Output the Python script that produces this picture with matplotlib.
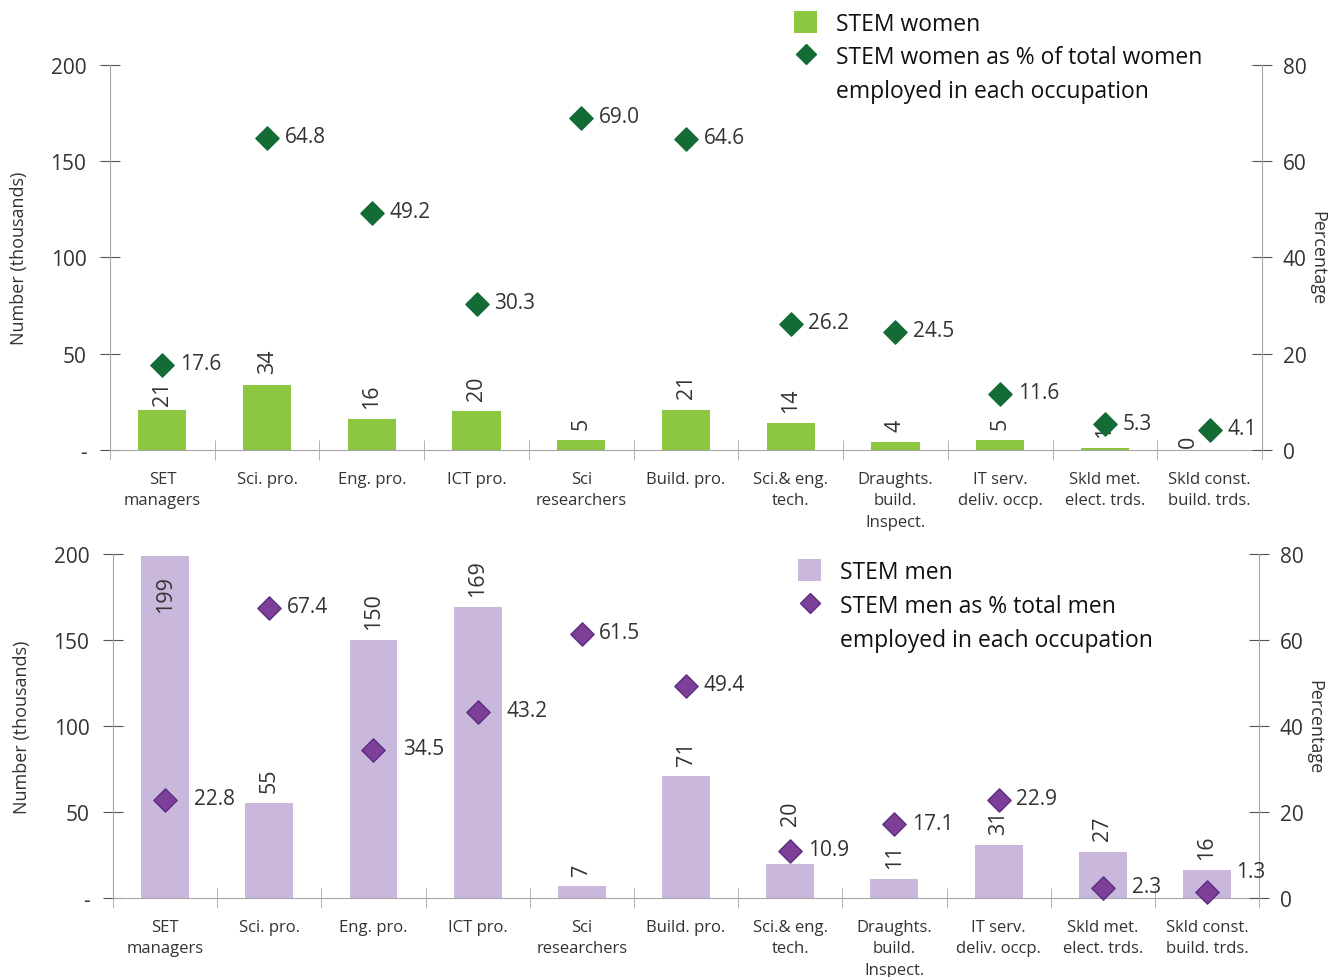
import matplotlib
matplotlib.use("Agg")
import matplotlib.pyplot as plt
from matplotlib.patches import Patch
from matplotlib.lines import Line2D

plt.rcParams['font.family'] = ['Open Sans', 'DejaVu Sans']

categories = ["SET\nmanagers", "Sci. pro.", "Eng. pro.", "ICT pro.", "Sci\nresearchers",
              "Build. pro.", "Sci.& eng.\ntech.", "Draughts.\nbuild.\nInspect.",
              "IT serv.\ndeliv. occp.", "Skld met.\nelect. trds.", "Skld const.\nbuild. trds."]
women = [21, 34, 16, 20, 5, 21, 14, 4, 5, 1, 0]
women_pct = [17.6, 64.8, 49.2, 30.3, 69.0, 64.6, 26.2, 24.5, 11.6, 5.3, 4.1]
men = [199, 55, 150, 169, 7, 71, 20, 11, 31, 27, 16]
men_pct = [22.8, 67.4, 34.5, 43.2, 61.5, 49.4, 10.9, 17.1, 22.9, 2.3, 1.3]

left_ticks = [0, 50, 100, 150, 200]
left_labels = ["-", "50", "100", "150", "200"]
right_ticks = [0, 20, 40, 60, 80]

txt = "#333333"
spine_c = "#a6a6a6"

fig = plt.figure(figsize=(13.42, 9.78), dpi=100)
ax1 = fig.add_axes([0.082, 0.5389, 0.8584, 0.3936])
ax2 = fig.add_axes([0.0842, 0.0808, 0.854, 0.3517])


def panel(ax, counts, pct, bar_c, dia_c, dia_edge, leg_labels, leg_pos,
          bar_nudge={}, pct_nudge={}):
    x = list(range(len(counts)))
    ax.bar(x, counts, width=0.46, color=bar_c, zorder=2)
    ax.set_xlim(-0.5, len(counts) - 0.5)
    ax.set_ylim(0, 200)
    ax.set_yticks(left_ticks)
    ax.set_yticklabels(left_labels)
    ax.set_xticks(x)
    ax.set_xticklabels(categories, fontsize=12, color=txt, linespacing=1.45)
    ax.set_xticks([i + 0.5 for i in range(-1, len(counts))], minor=True)
    ax.tick_params(axis='x', which='major', length=0, pad=15)
    ax.tick_params(axis='x', which='minor', length=14, direction='inout', color=spine_c)
    ax.tick_params(axis='y', length=14, direction='inout', color='#555555',
                   labelsize=15, labelcolor=txt, pad=10)
    ax.set_ylabel("Number (thousands)", fontsize=13, color=txt, labelpad=16)
    for s in ['top', 'right']:
        ax.spines[s].set_visible(False)
    ax.spines['left'].set_color(spine_c)
    ax.spines['bottom'].set_color(spine_c)
    for xi, v in zip(x, counts):
        dx, dy = bar_nudge.get(xi, (0, 0))
        if v > 185:
            ax.annotate(str(v), (xi, v), xytext=(dx, -14 + dy), textcoords='offset points',
                        rotation=90, ha='center', va='top', fontsize=15.5, color=txt, zorder=4)
        else:
            ax.annotate(str(v), (xi, v), xytext=(dx, 8 + dy), textcoords='offset points',
                        rotation=90, ha='center', va='bottom', fontsize=15.5, color=txt, zorder=4)

    axr = ax.twinx()
    axr.set_ylim(0, 80)
    axr.set_yticks(right_ticks)
    axr.tick_params(axis='y', length=14, direction='inout', color='#555555',
                    labelsize=15, labelcolor=txt, pad=8)
    for s in ['top', 'left', 'bottom']:
        axr.spines[s].set_visible(False)
    axr.spines['right'].set_color(spine_c)
    axr.set_ylabel("Percentage", fontsize=13, color=txt, rotation=-90, labelpad=14)
    axr.scatter(x, pct, marker='D', s=140, color=dia_c, edgecolor=dia_edge,
                linewidth=1, zorder=5, clip_on=False)
    for xi, p, v in zip(x, pct, counts):
        # labels of diamonds sitting on a bar go past the bar's edge
        off = 21 if p * 2.5 < v else 12.5
        dy = pct_nudge.get(xi, 0)
        axr.annotate(f"{p:.1f}", (xi, p), xytext=(off, 1 + dy), textcoords='offset points',
                     ha='left', va='center', fontsize=15, color=txt)

    handles = [Patch(facecolor=bar_c, edgecolor='none'),
               Line2D([], [], marker='D', linestyle='none', markersize=10,
                      color=dia_c, markeredgecolor=dia_edge),
               Line2D([], [], linestyle='none')]
    leg = fig.legend(handles, leg_labels, loc='upper left', bbox_to_anchor=leg_pos,
                     frameon=False, fontsize=16.5, handlelength=1.0, handleheight=1.1,
                     handletextpad=0.8, labelspacing=0.4, borderpad=0, borderaxespad=0)
    for t in leg.get_texts():
        t.set_color("#111111")
    return axr


panel(ax1, women, women_pct, "#8dc63f", "#136b35", "#136b35",
      ["STEM women", "STEM women as % of total women", "employed in each occupation"],
      (0.592, 0.988), bar_nudge={0: (0, -5), 10: (-15, -6)})
panel(ax2, men, men_pct, "#c9b8db", "#7d3f98", "#5a2d82",
      ["STEM men", "STEM men as % total men", "employed in each occupation"],
      (0.595, 0.427), bar_nudge={6: (0, 20)}, pct_nudge={10: 14})

fig.savefig("out.png", dpi=100, facecolor='white')
